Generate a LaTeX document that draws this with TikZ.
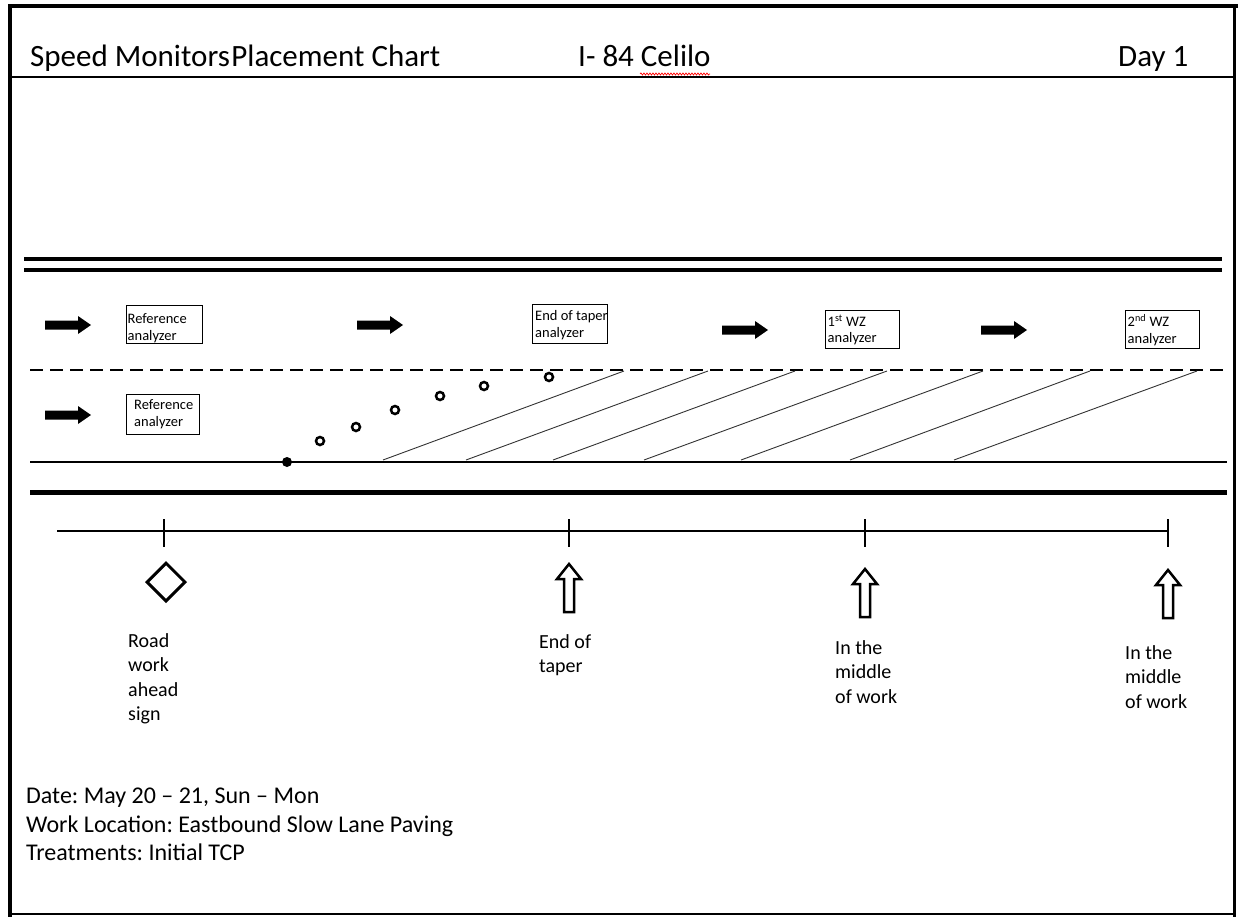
\documentclass[tikz,border=0pt]{standalone}
\usepackage{fontspec}
\setmainfont{Carlito}
\usetikzlibrary{shapes,arrows,positioning,decorations.pathmorphing}
\frenchspacing

\tikzset{
    titletext/.style={anchor=base west, inner sep=0pt, font=\fontsize{31}{36}\selectfont},
    marktext/.style={anchor=north west, inner sep=0pt, align=left, font=\fontsize{20}{24.5}\selectfont},
    infotext/.style={anchor=north west, inner sep=0pt, align=left, font=\fontsize{24}{28.5}\selectfont},
    analyzer/.style={draw, line width=1pt, minimum width=76pt, minimum height=38pt, inner sep=0pt},
    boxtext/.style={inner sep=0pt, align=left, font=\fontsize{14.5}{16.5}\selectfont},
    blockarrow/.pic={\fill (-23,-4.5) -- (10,-4.5) -- (10,-9) -- (23,0) -- (10,9) -- (10,4.5) -- (-23,4.5) -- cycle;},
    openarrow/.pic={\draw[line width=2.5pt, line join=miter] (-5,24) -- (-5,-9) -- (-12,-9) -- (0,-24)
        -- (12,-9) -- (5,-9) -- (5,24) -- cycle;},
    cone/.style={circle, draw, line width=2.5pt, fill=white, inner sep=0pt, minimum size=8pt},
    hatch/.style={line width=0.9pt, black!80}
}

\begin{document}
\begin{tikzpicture}[x=1pt, y=-1pt]
    \useasboundingbox (0,0) rectangle (1238,917);

    % Frame and header
    \draw[line width=4.5pt] (10,917) -- (10,6) -- (1238,6);
    \draw[line width=3pt] (1234,6) -- (1234,917);
    \draw[line width=2pt] (10,914) -- (1234,914);
    \draw[line width=2pt] (10,77) -- (1234,77);
    \node[titletext] (title) at (30,67) {Speed Monitors\hspace{1.5pt}Placement Chart};
    \node[titletext] (site) at (578,67) {I- 84 Celilo};
    \node[titletext] (day) at (1118,67) {Day 1};
    \draw[red, line width=0.7pt, decorate, decoration={snake, amplitude=1pt, segment length=3pt}]
        (640,74) -- (710,74);

    % Road edges and lanes
    \draw[line width=4pt] (24,259) -- (1222,259);
    \draw[line width=4pt] (24,270) -- (1222,270);
    \draw[line width=2.5pt, dash pattern=on 13pt off 7pt] (30,370) -- (1226,370);
    \draw[line width=2pt] (30,462) -- (1227,462);
    \draw[line width=5pt] (30,492) -- (1227,492);

    % Traffic direction
    \foreach \x/\y [count=\i] in {68/325, 380/325, 745/330, 1004/330, 68/415} {
        \pic (flow\i) at (\x,\y) {blockarrow};
    }

    % Analyzers
    \node[analyzer] (refTop) at (164,324) {};
    \node[boxtext, right=2pt of refTop.west, yshift=-4pt] (refTopText) {Reference\\analyzer};
    \node[analyzer, minimum width=73pt, minimum height=40pt] (refLow) at (163,414) {};
    \node[boxtext, right=8pt of refLow.west] (refLowText) {Reference\\analyzer};
    \node[analyzer, minimum width=75pt, minimum height=39pt] (taper) at (570,324) {};
    \node[boxtext, right=3pt of taper.west, yshift=-1pt] (taperText) {End of taper\\analyzer};
    \node[analyzer, minimum width=74pt] (wzOne) at (862,329) {};
    \node[boxtext, right=3pt of wzOne.west, yshift=-1pt] (wzOneText) {1\textsuperscript{st} WZ\\analyzer};
    \node[analyzer, minimum width=74pt] (wzTwo) at (1162,329) {};
    \node[boxtext, right=3pt of wzTwo.west, yshift=-1pt] (wzTwoText) {2\textsuperscript{nd} WZ\\analyzer};

    % Work zone hatching
    \foreach \a/\b in {383/624, 466/708, 553/795, 644/887, 741/983, 850/1090, 954/1197} {
        \draw[hatch] (\a,460) -- (\b,371);
    }

    % Taper cones
    \fill (287,462) circle (5pt);
    \foreach \x/\y [count=\i] in {320/441, 356/427, 395/410, 440/396, 484/386, 549/377} {
        \node[cone] (cone\i) at (\x,\y) {};
    }

    % Location scale
    \draw[line width=1.3pt] (57,531) -- (1168,531);
    \foreach \x in {164, 569, 865, 1168} {
        \draw[line width=1.3pt] (\x,519) -- (\x,547);
    }
    \node[diamond, draw, line width=3pt, inner sep=0pt, minimum size=39pt] (sign) at (166,582) {};
    \pic (endTaper) at (569,588) {openarrow};
    \pic (midOne) at (865,593) {openarrow};
    \pic (midTwo) at (1168,594) {openarrow};

    \node[marktext] (signText) at (128,633) {Road\\work\\ahead\\sign};
    \node[marktext] (taperText) at (539,634) {End of\\taper};
    \node[marktext] (midOneText) at (835,640) {In the\\middle\\of work};
    \node[marktext] (midTwoText) at (1125,645) {In the\\middle\\of work};

    % Notes
    \node[infotext] (notes) at (26,788) {Date: May 20 -- 21, Sun -- Mon\\Work Location: Eastbound Slow Lane Paving\\Treatments: Initial TCP};
\end{tikzpicture}
\end{document}
